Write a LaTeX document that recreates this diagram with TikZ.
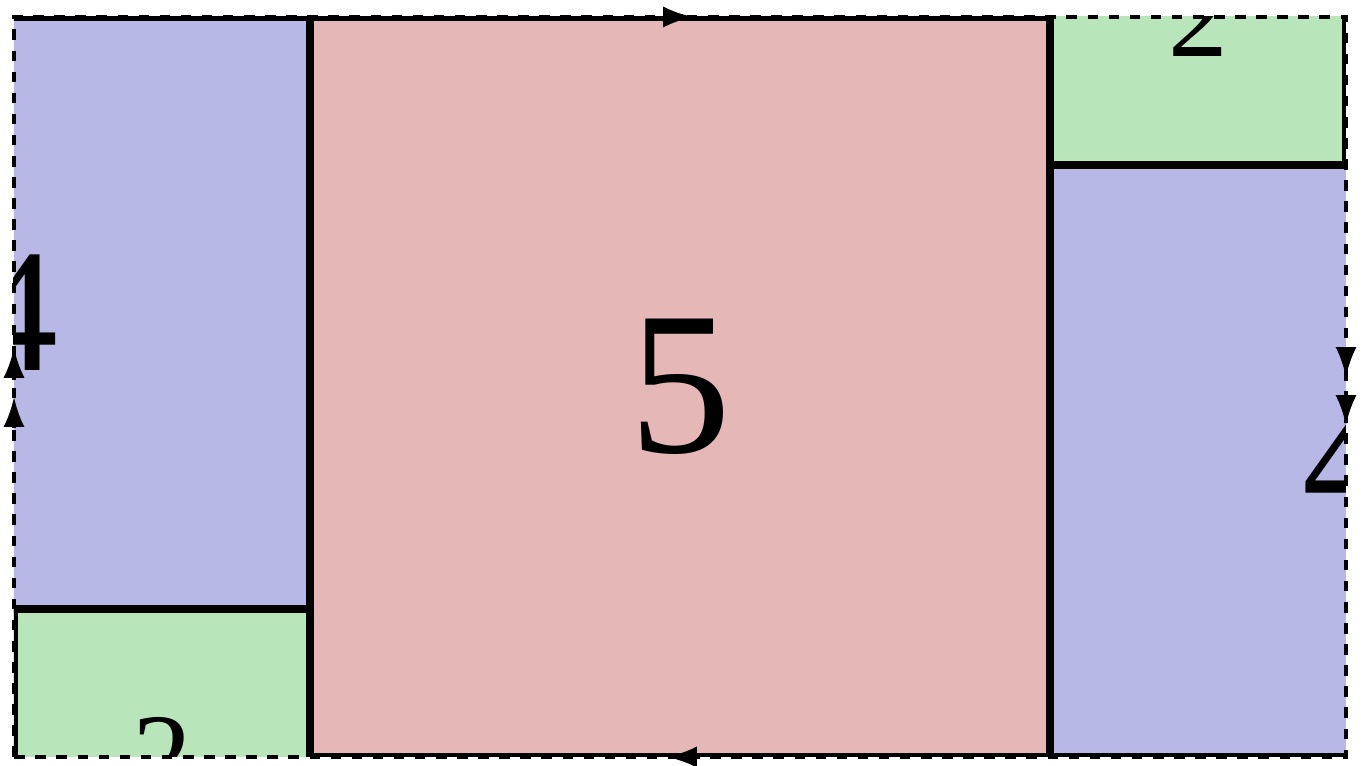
\documentclass[tikz,border=0pt]{standalone}
\usepackage{fontspec}
\setmainfont{Liberation Serif}
\usetikzlibrary{arrows.meta}
\definecolor{tileblue}{RGB}{183,184,230}
\definecolor{tilered}{RGB}{229,183,183}
\definecolor{tilegreen}{RGB}{184,229,185}

\begin{document}
\begin{tikzpicture}[x=1.48cm, y=1.48cm,
  tile/.style={draw=black,line width=2.1pt},
  edge/.style={dashed,line width=0.9pt},
  glue/.style={-{Latex[length=8.5pt,width=6pt]},line width=0.9pt},
  num/.style={inner sep=0pt,font=\fontsize{#1}{#1}\selectfont}]
\useasboundingbox (-0.14cm,-0.09cm) rectangle ++(13.61cm,7.66cm);
% fundamental domain 9 x 5
\coordinate (sw) at (0,0);
\coordinate (ne) at (9,5);
\begin{scope}
\clip (sw) rectangle (ne);
\draw[tile,fill=tilered] (2,0) rectangle (7,5);
\draw[tile,fill=tileblue] (7,0) rectangle (11,4);
\draw[tile,fill=tileblue] (-2,1) rectangle (2,5);
\draw[tile,fill=tilegreen] (7,4) rectangle (9,6);
\draw[tile,fill=tilegreen] (0,-1) rectangle (2,1);
\node[num=58pt] (five) at (4.5,2.5) {5};
\node[num=50pt] (fourR) at (9,2) {4};
\node[num=50pt] (fourL) at (0,3) {4};
\node[num=34pt] (twoT) at (8,5) {2};
\node[num=34pt] (twoB) at (1,0) {2};
\end{scope}
\draw[edge] (sw) rectangle (ne);
% gluing marks
\draw[glue] (4.399,5) -- (4.588,5);
\draw[glue] (4.615,0) -- (4.412,0);
\draw[glue] (0,2.547) -- (0,2.764);
\draw[glue] (0,2.223) -- (0,2.432);
\draw[glue] (9,2.764) -- (9,2.568);
\draw[glue] (9,2.439) -- (9,2.243);
\end{tikzpicture}
\end{document}
